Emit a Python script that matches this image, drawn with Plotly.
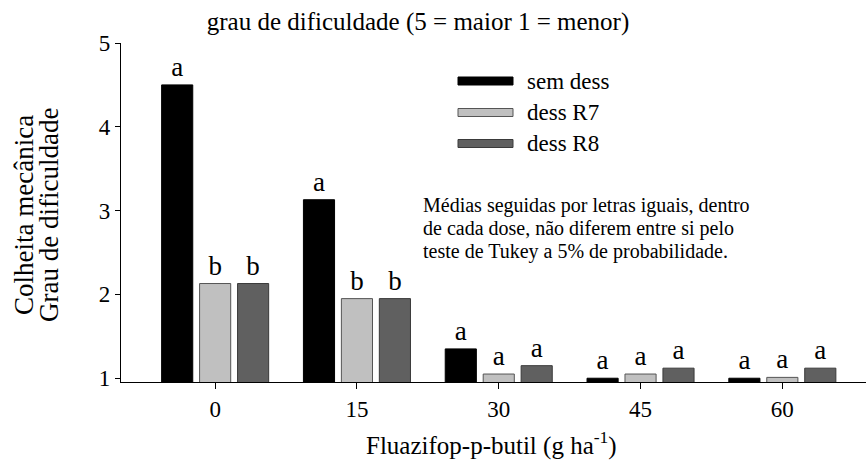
import plotly.graph_objects as go

doses = ["0", "15", "30", "45", "60"]
series_names = ["sem dess", "dess R7", "dess R8"]
sem_dess = [4.50, 3.13, 1.35, 1.00, 1.00]
dess_r7 = [2.13, 1.95, 1.05, 1.05, 1.01]
dess_r8 = [2.13, 1.95, 1.15, 1.12, 1.12]
letters_sem = ["a", "a", "a", "a", "a"]
letters_r7 = ["b", "b", "a", "a", "a"]
letters_r8 = ["b", "b", "a", "a", "a"]
y_ticks = [1, 2, 3, 4, 5]

title_text = "grau de dificuldade (5 = maior 1 = menor)"
y_title_lines = ["Colheita mecânica", "Grau de dificuldade"]
x_title = "Fluazifop-p-butil (g ha<sup>-1</sup>)"
note_lines = ["Médias seguidas por letras iguais, dentro",
              "de cada dose, não diferem entre si pelo",
              "teste de Tukey a 5% de probabilidade."]

colors = ["#000000", "#c0c0c0", "#606060"]
outline = ["#000000", "#555555", "#3a3a3a"]
FONT = "Liberation Serif"

W, H = 866, 461
L, R, T, B = 121, 0, 43, 79
PW, PH = W - L - R, H - T - B


def px(x):
    return (x - L) / PW


def py(y):
    return (H - B - y) / PH


fig = go.Figure()
for name, vals, lets, c, oc in zip(series_names, [sem_dess, dess_r7, dess_r8],
                                   [letters_sem, letters_r7, letters_r8], colors, outline):
    fig.add_trace(go.Bar(
        x=doses, y=vals, name=name, text=lets, textposition="outside",
        textfont=dict(family=FONT, size=27, color="black"),
        marker=dict(color=c, line=dict(color=oc, width=1)),
        constraintext="none", cliponaxis=False, showlegend=False,
    ))

# manual legend (wide swatches)
legend_rows = [81, 112.5, 143.5]
for name, c, oc, yc in zip(series_names, colors, outline, legend_rows):
    fig.add_shape(type="rect", xref="paper", yref="paper",
                  x0=px(458), x1=px(513), y0=py(yc + 4), y1=py(yc - 4),
                  fillcolor=c, line=dict(color=oc, width=1))
    fig.add_annotation(xref="paper", yref="paper", x=px(525), y=py(yc),
                       xanchor="left", yanchor="middle", text=name, showarrow=False,
                       font=dict(family=FONT, size=23, color="black"))

for line, yc in zip(note_lines, [205, 228.5, 251.5]):
    fig.add_annotation(xref="paper", yref="paper", x=px(421), y=py(yc),
                       xanchor="left", yanchor="middle", align="left", text=line,
                       showarrow=False, font=dict(family=FONT, size=20, color="black"))

fig.add_annotation(xref="paper", yref="paper", x=px(491), y=py(444),
                   xanchor="center", yanchor="middle", text=x_title, showarrow=False,
                   font=dict(family=FONT, size=25, color="black"))

for line, xc in zip(y_title_lines, [24, 49]):
    fig.add_annotation(xref="paper", yref="paper", x=px(xc), y=py(215),
                       xanchor="center", yanchor="middle", text=line, showarrow=False,
                       textangle=-90, font=dict(family=FONT, size=27, color="black"))

fig.update_layout(
    width=W, height=H,
    margin=dict(l=L, r=R, t=T, b=B),
    paper_bgcolor="white", plot_bgcolor="white",
    barmode="group", bargap=0.197, bargroupgap=0.18,
    title=dict(text=title_text, x=418 / W, xref="container", xanchor="center",
               y=1 - 21 / H, yref="container", yanchor="middle",
               font=dict(family=FONT, size=25, color="black")),
    font=dict(family=FONT, color="black"),
    xaxis=dict(type="category", range=[-0.664, 4.59], showline=True, linecolor="black",
               linewidth=1.2, ticks="outside", ticklen=6, tickcolor="black",
               tickfont=dict(family=FONT, size=23), showgrid=False, zeroline=False),
    yaxis=dict(range=[0.955, 5], tickvals=y_ticks, showline=True, linecolor="black",
               linewidth=1.2, ticks="outside", ticklen=5, tickcolor="black",
               tickfont=dict(family=FONT, size=23), showgrid=False, zeroline=False),
)

fig.write_html("out.html", config={"displayModeBar": False},
               post_script="document.body.style.margin='0';")
